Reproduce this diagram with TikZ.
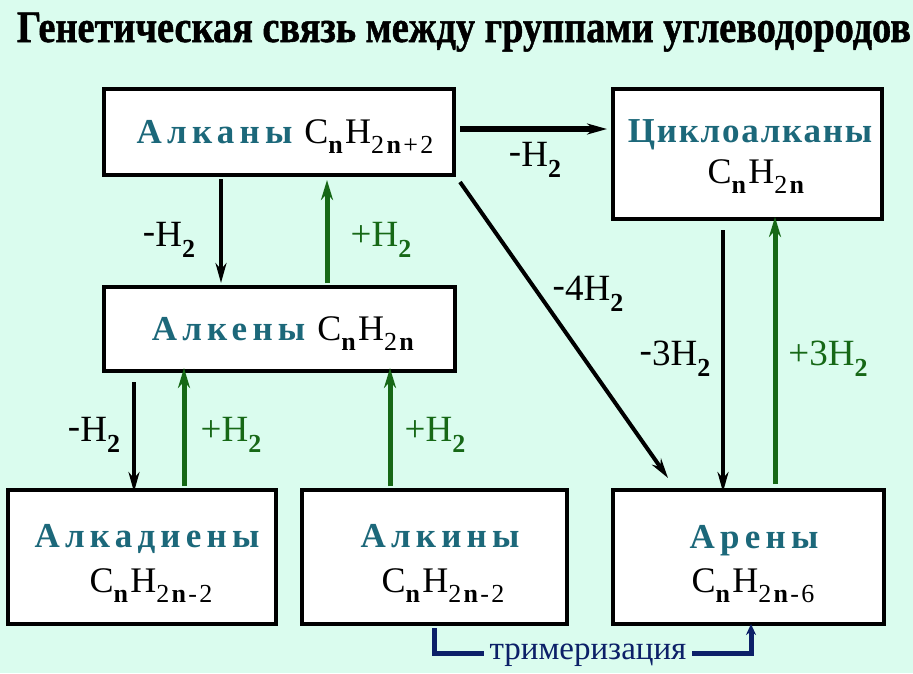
\documentclass[tikz,border=0pt]{standalone}
\usepackage{fontspec}
\usepackage{graphicx}
\setmainfont{Liberation Serif}
\newfontfamily\titlefont[FakeBold=1.2]{Liberation Serif}
\newfontfamily\namefont[LetterSpace=15]{Liberation Serif}
\newfontfamily\namefontB[LetterSpace=5]{Liberation Serif}
\newfontfamily\fmfont[LetterSpace=9]{Liberation Serif}
\usetikzlibrary{arrows.meta}
\definecolor{bgc}{RGB}{218,252,238}
\definecolor{tealc}{RGB}{28,104,122}
\definecolor{grnc}{RGB}{22,104,22}
\definecolor{navyc}{RGB}{12,32,104}
\newcommand\fsub[1]{\raisebox{-0.3em}{\fontsize{26}{26}\selectfont #1}}
\newcommand\bn{\textbf{n}}
\newcommand\nm[1]{{\fontsize{35}{35}\namefont\bfseries\color{tealc}#1}}
\newcommand\nmB[1]{{\fontsize{35}{35}\namefontB\bfseries\color{tealc}#1}}
\newcommand\fm[1]{{\fontsize{36}{36}\fmfont #1}}
\newcommand\mns{\raisebox{0.08em}{-}}
\newcommand\lsb{\raisebox{-0.3em}{\fontsize{26}{26}\selectfont\bfseries 2}}
\begin{document}
\begin{tikzpicture}[x=1pt,y=-1pt,
  box/.style={draw=black,line width=4pt,fill=white,inner sep=0pt},
  txt/.style={anchor=base,inner sep=0pt},
  lbl/.style={anchor=base,inner sep=0pt,font=\fontsize{37}{37}\selectfont},
  blk/.style={draw=black,line width=4pt,-{Stealth[length=20pt,width=11pt]}},
  grn/.style={draw=grnc,line width=5pt,-{Stealth[length=20pt,width=12pt]}},
  nav/.style={draw=navyc,line width=5pt,-{Stealth[length=11pt,width=10pt]}}]
\fill[bgc] (0,0) rectangle (913,673);
\useasboundingbox (0,0) rectangle (913,673);
% title
\node[anchor=base,inner sep=0pt] (title) at (464,42)
  {\resizebox{894pt}{\height}{\fontsize{45}{45}\titlefont\bfseries Генетическая связь между группами углеводородов}};
% boxes
\node[box,minimum width=350pt,minimum height=86pt] (alkany) at (279,132) {};
\node[box,minimum width=269pt,minimum height=130pt] (cyclo) at (747.5,154) {};
\node[box,minimum width=351pt,minimum height=84pt] (alkeny) at (279.5,329) {};
\node[box,minimum width=268pt,minimum height=134pt] (alkadieny) at (142,557) {};
\node[box,minimum width=265pt,minimum height=134pt] (alkiny) at (434.5,557) {};
\node[box,minimum width=271pt,minimum height=134pt] (areny) at (748.5,557) {};
% texts
\node[txt] (t1) at (285,143) {\nm{Алканы}\hspace{12pt}\fm{C\fsub{\bn}H\fsub{2\bn+2}}};
\node[txt] (t2a) at (750,142) {\nmB{Циклоалканы}};
\node[txt] (t2b) at (757,183) {\fm{C\fsub{\bn}H\fsub{2\bn}}};
\node[txt] (t3) at (284,340) {\nm{Алкены}\hspace{12pt}\fm{C\fsub{\bn}H\fsub{2\bn}}};
\node[txt] (t4a) at (147,547) {\nm{Алкадиены}};
\node[txt] (t4b) at (151,592) {\fm{C\fsub{\bn}H\fsub{2\bn-2}}};
\node[txt] (t5a) at (440,547) {\nm{Алкины}};
\node[txt] (t5b) at (443,592) {\fm{C\fsub{\bn}H\fsub{2\bn-2}}};
\node[txt] (t6a) at (754,548) {\nm{Арены}};
\node[txt] (t6b) at (753,592) {\fm{C\fsub{\bn}H\fsub{2\bn-6}}};
% arrows
\draw[blk,line width=6pt] (alkany.east |- 0,129) ++(4,0) -- ([xshift=-4pt]cyclo.west |- 0,129);
\node[lbl] (l1) at (535,166) {\mns H\lsb};
\draw[blk] ([yshift=0pt]alkany.south -| 221,0) ++(0,2) -- ([yshift=2pt]alkeny.north -| 221,0);
\node[lbl] (l2) at (169,246) {\mns H\lsb};
\draw[grn] (alkeny.north -| 327,0) ++(0,-2) -- ([yshift=-3pt]alkany.south -| 327,0);
\node[lbl,text=grnc] (l3) at (381,246) {+H\lsb};
\draw[blk] ([shift={(4,5)}]alkany.south east) -- ([shift={(57,-10)}]areny.north west);
\node[lbl] (l4) at (588,300) {\mns 4H\lsb};
\draw[blk] (cyclo.south -| 723,0) ++(0,9) -- ([yshift=-4pt]areny.north -| 723,0);
\node[lbl] (l5) at (675,365) {\mns 3H\lsb};
\draw[grn] (areny.north -| 775,0) ++(0,-4) -- ([yshift=4pt]cyclo.south -| 775,0);
\node[lbl,text=grnc] (l6) at (828,365) {+3H\lsb};
\draw[blk] (alkeny.south -| 134,0) ++(0,9) -- ([yshift=-4pt]alkadieny.north -| 134,0);
\node[lbl] (l7) at (94,441) {\mns H\lsb};
\draw[grn] (alkadieny.north -| 184,0) ++(0,-2) -- ([yshift=5pt]alkeny.south -| 184,0);
\node[lbl,text=grnc] (l8) at (231,441) {+H\lsb};
\draw[grn] (alkiny.north -| 390,0) ++(0,-2) -- ([yshift=5pt]alkeny.south -| 390,0);
\node[lbl,text=grnc] (l9) at (435,441) {+H\lsb};
% trimerization
\coordinate (c1) at (434,653);
\coordinate (c2) at (751,653);
\draw[nav] (alkiny.south -| c1) ++(0,2) -- (c1) -- (c2) -- ([yshift=2pt]areny.south -| c2);
\node[anchor=base,inner sep=6pt,fill=bgc,text=navyc,font=\fontsize{33}{33}\selectfont] (tri) at (588,659) {тримеризация};
\end{tikzpicture}
\end{document}
